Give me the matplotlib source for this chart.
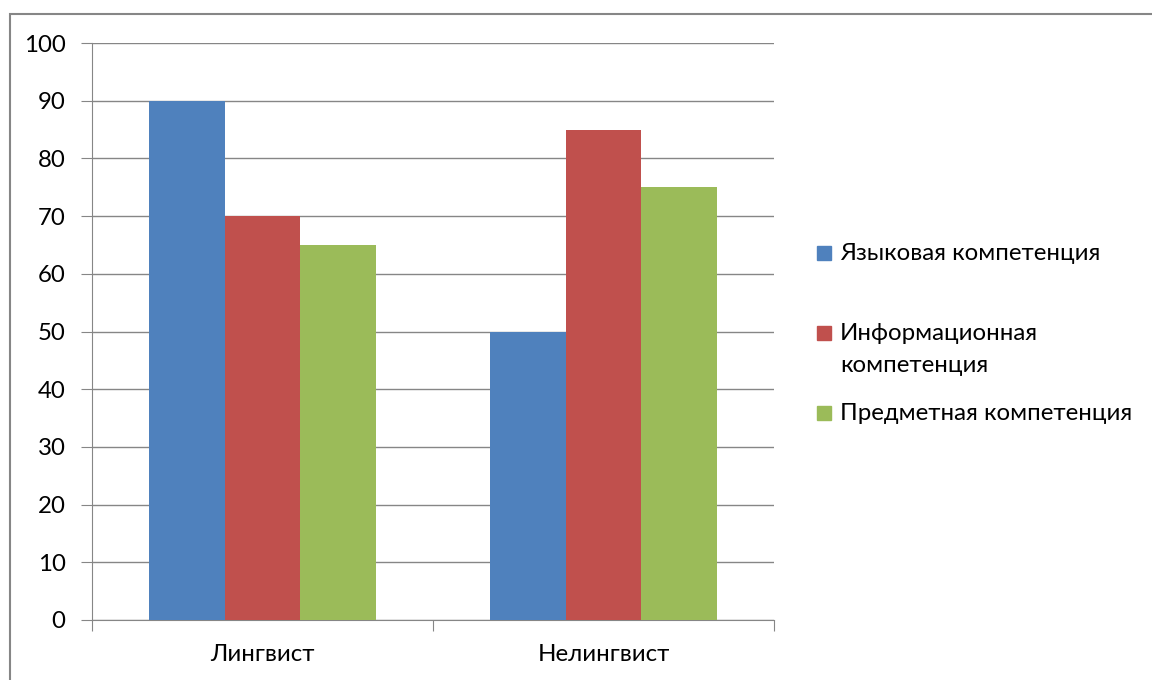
import numpy as np
import matplotlib.pyplot as plt
from matplotlib.patches import Rectangle

# данные
categories = ['Лингвист', 'Нелингвист']
series_names = ['Языковая компетенция', 'Информационная\nкомпетенция', 'Предметная компетенция']
series_values = [
    [90, 50],   # Языковая
    [70, 85],   # Информационная
    [65, 75],   # Предметная
]
colors = ['#4F81BD', '#C0504D', '#9BBB59']
y_ticks = [0, 10, 20, 30, 40, 50, 60, 70, 80, 90, 100]

plt.rcParams['font.family'] = ['Lato', 'DejaVu Sans']
grid_color = '#868686'
fs = 17.3

fig = plt.figure(figsize=(11.52, 6.8), dpi=100)
ax = fig.add_axes([92 / 1152, 1 - 620 / 680, (774 - 92) / 1152, (620 - 43) / 680])

# рамка вокруг диаграммы
fig.patches.append(Rectangle((10 / 1152, -0.1), 1.2, 1 - 14 / 680 + 0.1,
                             transform=fig.transFigure, fill=False,
                             edgecolor=grid_color, linewidth=1.5))

x = np.arange(len(categories))
width = 1 / 4.5
for i, vals in enumerate(series_values):
    ax.bar(x + (i - 1) * width, vals, width, color=colors[i], zorder=3)

ax.set_xlim(-0.5, len(categories) - 0.5)
ax.set_ylim(0, 100)
ax.set_yticks(y_ticks)
ax.yaxis.grid(True, color=grid_color, linewidth=1, zorder=0)

# деления на границах категорий, подписи по центру
ax.set_xticks(np.arange(len(categories) + 1) - 0.5)
ax.set_xticklabels([])
ax.set_xticks(x, minor=True)
ax.set_xticklabels(categories, minor=True, fontsize=fs)
ax.tick_params(axis='x', which='major', length=8, color=grid_color, direction='out')
ax.tick_params(axis='x', which='minor', length=0, pad=17)
ax.tick_params(axis='y', length=8, color=grid_color, labelsize=fs, pad=11)

for s in ['top', 'right']:
    ax.spines[s].set_visible(False)
for s in ['left', 'bottom']:
    ax.spines[s].set_color(grid_color)

# легенда
legend_y = [253, 333, 413]
for name, c, yy in zip(series_names, colors, legend_y):
    fig.patches.append(Rectangle((817 / 1152, 1 - (yy + 7) / 680), 14 / 1152, 14 / 680,
                                 transform=fig.transFigure, color=c))
    fig.text(840 / 1152, 1 - (yy - 10) / 680, name, fontsize=fs, va='top',
             ha='left', linespacing=1.65, transform=fig.transFigure)

fig.savefig('out.png', dpi=100)
